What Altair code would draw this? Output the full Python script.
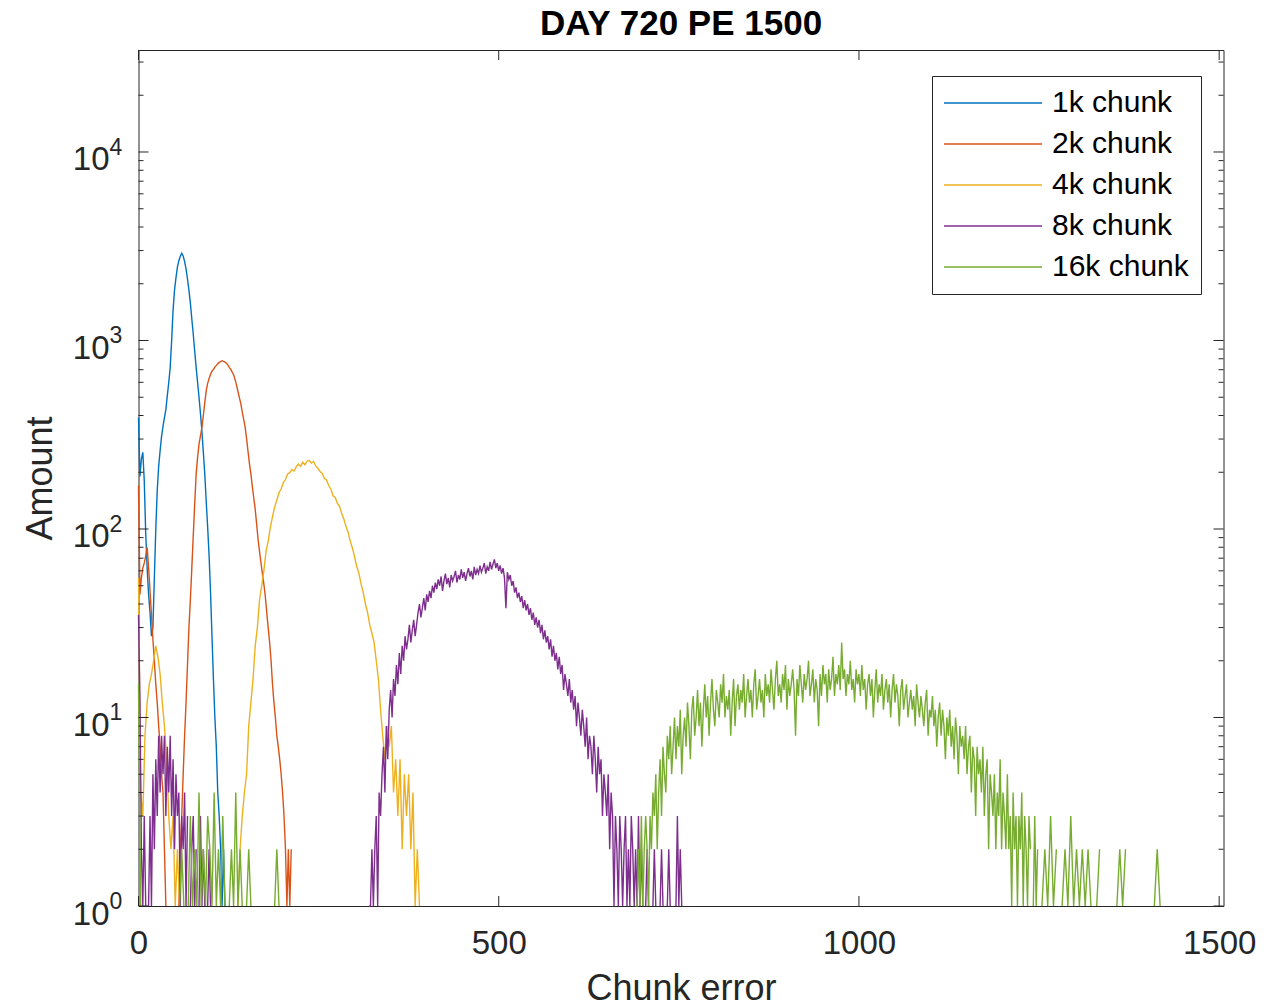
import altair as alt
import pandas as pd

FONT = "Liberation Sans"
TITLE = "DAY 720 PE 1500"
SERIES = ["1k chunk", "2k chunk", "4k chunk", "8k chunk", "16k chunk"]
COLORS = ["#0072BD", "#D95319", "#EDB120", "#7E2F8E", "#77AC30"]
X_TICKS = [0, 500, 1000, 1500]
Y_TICKS = [1, 10, 100, 1000, 10000]
Y_EXP = ["0", "1", "2", "3", "4"]
Y_MINOR = [2, 3, 4, 5, 6, 7, 8, 9,
           20, 30, 40, 50, 60, 70, 80, 90,
           200, 300, 400, 500, 600, 700, 800, 900,
           2000, 3000, 4000, 5000, 6000, 7000, 8000, 9000,
           20000, 30000]
X_DOMAIN = [0, 1506]
Y_DOMAIN = [1, 34760]
N = None

# ---- 1k chunk ----
BLUE_X0, BLUE_STEP = 0, 2
BLUE = [390, 190, 235, 255, 180, 95, 62, 45, 36, 27, 30, 55, 100, 160, 215, 260,
        310, 350, 390, 430, 510, 600, 720, 1000, 1450, 1850, 2150, 2450, 2650, 2800,
        2900, 2810, 2620, 2400, 2120, 1850, 1580, 1300, 1080, 880, 720, 600, 500, 410,
        330, 255, 195, 140, 102, 72, 46, 27, 16, 10, 7, 4, 3, 2, 1, 2, 1, N]

# ---- 2k chunk ----
RED_A_X0, RED_A_STEP = 0, 2
RED_A = [170, 45, 55, 62, 66, 72, 80, 63, 47, 35, 26, 20, 15, 12, 9, 7, 5, 4, 2, 1, N, 1, N]
RED_B_X0, RED_B_STEP = 54, 2
RED_B = [N, 1, 2, 3, 5, 8, 12, 19, 30, 42, 62, 92, 135, 195, 240, 282, 312, 345, 400,
         468, 540, 592, 628, 662, 688, 702, 722, 738, 752, 765, 772, 781, 774, 768, 758,
         742, 721, 702, 680, 658, 622, 582, 538, 498, 462, 418, 382, 348, 302, 258, 222,
         196, 168, 146, 127, 106, 88, 76, 66, 58, 51, 44, 36, 30, 25, 20, 15, 12, 10, 8,
         7, 6, 5, 4, 3, 2, 1, 2, 1, 2, N]

# ---- 4k chunk ----
ORANGE_A_X0, ORANGE_A_STEP = 0, 3
ORANGE_A = [55, 4, 3, 8, 12, 15, 17, 20, 24, 21, 17, 12, 9, 6, 3, 2, 3, 1, 2, 1, N]
ORANGE_B_X0, ORANGE_B_STEP = 135, 3
ORANGE_B = [N, 1, 2, 3, 4, 5, 9, 12, 16, 24, 30, 42, 50, 60, 76, 86, 102, 116, 131, 142,
            156, 163, 176, 183, 196, 199, 207, 203, 214, 221, 215, 226, 219, 229, 231, 224,
            228, 216, 210, 202, 197, 186, 182, 170, 163, 150, 147, 137, 132, 121, 113, 103,
            96, 86, 79, 71, 63, 58, 51, 46, 40, 36, 31, 28, 25, 20, 16, 11, 8, 6, 9, 7, 9,
            4, 6, 3, 6, 2, 5, 3, 5, 2, 4, 1, 2, 1, N]

# ---- 8k chunk ----
PURPLE_A_X0, PURPLE_A_STEP = 0, 2
PURPLE_A = [35, 12, 2, 1, 3, 1, N, 1, 3, 1, 5, 2, 6, 3, 8, 4, 8, 5, 8, 3, 7, 4, 8, 3, 6, 2,
            5, 3, 4, 1, 3, 2, 4, 1, 3, N, 1, 2, 3, 1, 2, N, 1, 3, 1, 2, 1, N, 1, 2, 1, N]
PURPLE_B_X0, PURPLE_B_STEP = 318, 2
PURPLE_B = [N, 1, 1, 2, 1, 2, 3, 1, 4, 3,
            5, 7, 4, 9, 6, 11, 14, 10, 16, 13,
            19, 15, 22, 17, 24, 20, 27, 23, 26, 31,
            25, 29, 33, 27, 31, 36, 40, 34, 38, 43,
            37, 45, 41, 47, 43, 50, 46, 52, 48, 54,
            50, 56, 47, 53, 58, 51, 55, 49, 57, 53,
            56, 60, 52, 57, 54, 61, 55, 59, 53, 58,
            62, 56, 60, 54, 63, 57, 61, 58, 64, 59,
            62, 66, 58, 63, 60, 67, 61, 65, 69, 62,
            66, 60, 64, 58, 62, 55, 38, 59, 54, 57,
            50, 53, 46, 49, 43, 46, 41, 44, 38, 42,
            37, 40, 35, 38, 33, 36, 31, 34, 30, 33,
            28, 31, 26, 29, 25, 27, 23, 26, 21, 24,
            20, 22, 18, 21, 17, 19, 14, 17, 15, 13,
            16, 12, 14, 11, 13, 9, 12, 10, 8, 11,
            9, 7, 10, 6, 8, 7, 5, 8, 6, 4,
            7, 5, 6, 3, 5, 4, 3, 5, 2, 4,
            3, 1, 3, 2, 1, 3, 2, 1, 2, 3,
            1, 2, 1, 3, 2, 1, 2, 1, 3, 1,
            2, 1, N, 1, 2, 1, N, N, 1, 2,
            1, N, N, 1, 2, 1, N, N, 1, 2,
            1, N, N, N, 1, 3, 1, 2, 1, N]

# ---- 16k chunk ----
GREEN_A_X0, GREEN_A_STEP = 0, 3
GREEN_A = [15, 1, N]
GREEN_B_X0, GREEN_B_STEP = 54, 3
GREEN_B = [N, 1, 2, 1, N, 1, 3, 1, 2, 1, 4, 1, 2, 1, 3, 2, 1, 4, 1, 2, 1, 3, 1, N, 1, 2, 1,
           4, 1, 2, 1, N, 1, 2, 1, N]
GREEN_C_X0, GREEN_C_STEP = 186, 3
GREEN_C = [N, 1, 2, 1, N]
GREEN_D_X0, GREEN_D_STEP = 688, 2
GREEN_D = [N, 1, 1, 2, 1, 3, 1, 2, 3, 2,
           1, 3, 2, 4, 3, 5, 2, 4, 6, 3,
           7, 5, 4, 8, 6, 9, 5, 7, 10, 6,
           9, 7, 11, 5, 8, 10, 7, 12, 9, 6,
           11, 13, 8, 10, 14, 9, 12, 7, 11, 15,
           10, 13, 8, 12, 16, 11, 9, 14, 12, 10,
           15, 12, 17, 10, 13, 11, 14, 8, 12, 16,
           9, 13, 15, 11, 14, 12, 17, 10, 13, 16,
           12, 14, 10, 15, 18, 11, 13, 16, 12, 14,
           10, 17, 13, 15, 12, 18, 14, 11, 16, 20,
           13, 15, 12, 17, 14, 19, 11, 16, 13, 15,
           18, 14, 8, 16, 13, 19, 15, 12, 17, 14,
           16, 20, 13, 15, 18, 12, 16, 14, 9, 17,
           13, 19, 15, 17, 12, 18, 14, 16, 21, 13,
           17, 15, 19, 14, 25, 16, 18, 13, 17, 15,
           20, 14, 16, 12, 18, 15, 17, 13, 19, 14,
           16, 11, 15, 17, 13, 16, 10, 14, 18, 12,
           15, 13, 17, 11, 14, 16, 12, 15, 10, 14,
           17, 12, 15, 13, 9, 14, 16, 11, 13, 15,
           10, 12, 14, 11, 13, 9, 15, 12, 10, 13,
           11, 9, 12, 14, 8, 11, 10, 13, 9, 11,
           7, 10, 12, 8, 11, 9, 6, 10, 8, 11,
           7, 9, 6, 10, 8, 5, 9, 7, 8, 6,
           9, 5, 7, 8, 4, 7, 6, 3, 7, 5,
           6, 4, 7, 3, 5, 6, 2, 5, 4, 3,
           5, 2, 4, 3, 6, 2, 4, 3, 2, 5,
           2, 3, 1, 4, 2, 3, 1, 3, 2, 4,
           1, 3, 2, 1, 3, 2, N, 1, 3, 1,
           2]
GREEN_E_X0, GREEN_E_STEP = 1250, 4
GREEN_E = [N, 1, 2, 1, 3, 1, 2, N, 1, 2, 1, 3, 1, 2, 1, 2, 1, 2, 1, N, 1, 2, N, N, N, N, N,
           1, 2, 1, 2, N, N, N, N, N, N, N, N, N, 1, 2, 1, N]

SEGMENTS = [
    ("1k chunk", BLUE_X0, BLUE_STEP, BLUE),
    ("2k chunk", RED_A_X0, RED_A_STEP, RED_A),
    ("2k chunk", RED_B_X0, RED_B_STEP, RED_B),
    ("4k chunk", ORANGE_A_X0, ORANGE_A_STEP, ORANGE_A),
    ("4k chunk", ORANGE_B_X0, ORANGE_B_STEP, ORANGE_B),
    ("8k chunk", PURPLE_A_X0, PURPLE_A_STEP, PURPLE_A),
    ("8k chunk", PURPLE_B_X0, PURPLE_B_STEP, PURPLE_B),
    ("16k chunk", GREEN_A_X0, GREEN_A_STEP, GREEN_A),
    ("16k chunk", GREEN_B_X0, GREEN_B_STEP, GREEN_B),
    ("16k chunk", GREEN_C_X0, GREEN_C_STEP, GREEN_C),
    ("16k chunk", GREEN_D_X0, GREEN_D_STEP, GREEN_D),
    ("16k chunk", GREEN_E_X0, GREEN_E_STEP, GREEN_E),
]

rows = []
for name, x0, step, vals in SEGMENTS:
    for i, v in enumerate(vals):
        rows.append({"series": name, "x": x0 + i * step, "y": v})
df = pd.DataFrame(rows)
df["y"] = df["y"].astype(float)

W, H = 1085, 856
AX = "#262626"

xscale = alt.Scale(domain=X_DOMAIN, nice=False, zero=False)
yscale = alt.Scale(type="log", domain=Y_DOMAIN, nice=False)

lines = alt.Chart(df).mark_line(strokeWidth=1.4).encode(
    x=alt.X("x:Q", scale=xscale,
            axis=alt.Axis(values=X_TICKS, format="d", ticks=False, domain=False, grid=False,
                          labelFontSize=33, labelColor=AX, labelPadding=21.5,
                          labelFlush=False, labelOverlap=False,
                          title="Chunk error", titleFontSize=36, titleFontWeight="normal",
                          titleColor=AX, titleY=93, titleBaseline="alphabetic")),
    y=alt.Y("y:Q", scale=yscale,
            axis=alt.Axis(values=Y_TICKS, ticks=False, domain=False, grid=False,
                          labelExpr="'10'", labelFontSize=33, labelColor=AX,
                          labelPadding=29.5, labelOffset=8, labelBaseline="middle",
                          labelFlush=False, labelOverlap=False,
                          title="Amount", titleFontSize=36, titleFontWeight="normal",
                          titleColor=AX, titleX=-87, titleY=H / 2,
                          titleBaseline="alphabetic", titleAlign="center")),
    color=alt.Color("series:N", sort=SERIES,
                    scale=alt.Scale(domain=SERIES, range=COLORS),
                    legend=alt.Legend(orient="none", legendX=793.5, legendY=26, title=None,
                                      symbolType="M-7,0H7", symbolSize=196,
                                      symbolStrokeWidth=1.5, symbolOffset=34,
                                      labelFontSize=30, labelFont=FONT,
                                      labelColor="#000000", labelOffset=44,
                                      padding=12, rowPadding=11, strokeColor=AX,
                                      fillColor="white", labelLimit=0)),
)

exp_df = pd.DataFrame({"v": Y_TICKS, "e": Y_EXP})
exps = alt.Chart(exp_df).mark_text(align="left", baseline="middle", dy=-4, fontSize=23,
                                   font=FONT, color=AX).encode(
    x=alt.value(-29), y=alt.Y("v:Q", scale=yscale), text="e:N")

title_df = pd.DataFrame({"t": [TITLE]})
title = alt.Chart(title_df).mark_text(align="center", baseline="alphabetic", fontSize=35,
                                      fontWeight="bold", font=FONT, color="#000000").encode(
    x=alt.value(W / 2), y=alt.value(-15), text="t:N")

ymaj = pd.DataFrame({"v": Y_TICKS})
ymin = pd.DataFrame({"v": Y_MINOR})
xt = pd.DataFrame({"v": X_TICKS})
tk = dict(color=AX, strokeWidth=1)

ticks = [
    alt.Chart(ymaj).mark_rule(**tk).encode(y=alt.Y("v:Q", scale=yscale), x=alt.value(0), x2=alt.value(10)),
    alt.Chart(ymaj).mark_rule(**tk).encode(y=alt.Y("v:Q", scale=yscale), x=alt.value(W), x2=alt.value(W - 10)),
    alt.Chart(ymin).mark_rule(**tk).encode(y=alt.Y("v:Q", scale=yscale), x=alt.value(0), x2=alt.value(5)),
    alt.Chart(ymin).mark_rule(**tk).encode(y=alt.Y("v:Q", scale=yscale), x=alt.value(W), x2=alt.value(W - 5)),
    alt.Chart(xt).mark_rule(**tk).encode(x=alt.X("v:Q", scale=xscale), y=alt.value(H), y2=alt.value(H - 10)),
    alt.Chart(xt).mark_rule(**tk).encode(x=alt.X("v:Q", scale=xscale), y=alt.value(0), y2=alt.value(10)),
]

chart = alt.layer(lines, exps, title, *ticks).properties(
    width=W, height=H,
    background="white",
    autosize=alt.AutoSizeParams(type="none"),
    padding={"left": 130.5, "top": 42, "right": 40, "bottom": 100},
).configure_view(stroke=AX, strokeWidth=1).configure_axis(
    labelFont=FONT, titleFont=FONT
)

chart.save("out.html", embed_options={"renderer": "svg", "actions": False})
